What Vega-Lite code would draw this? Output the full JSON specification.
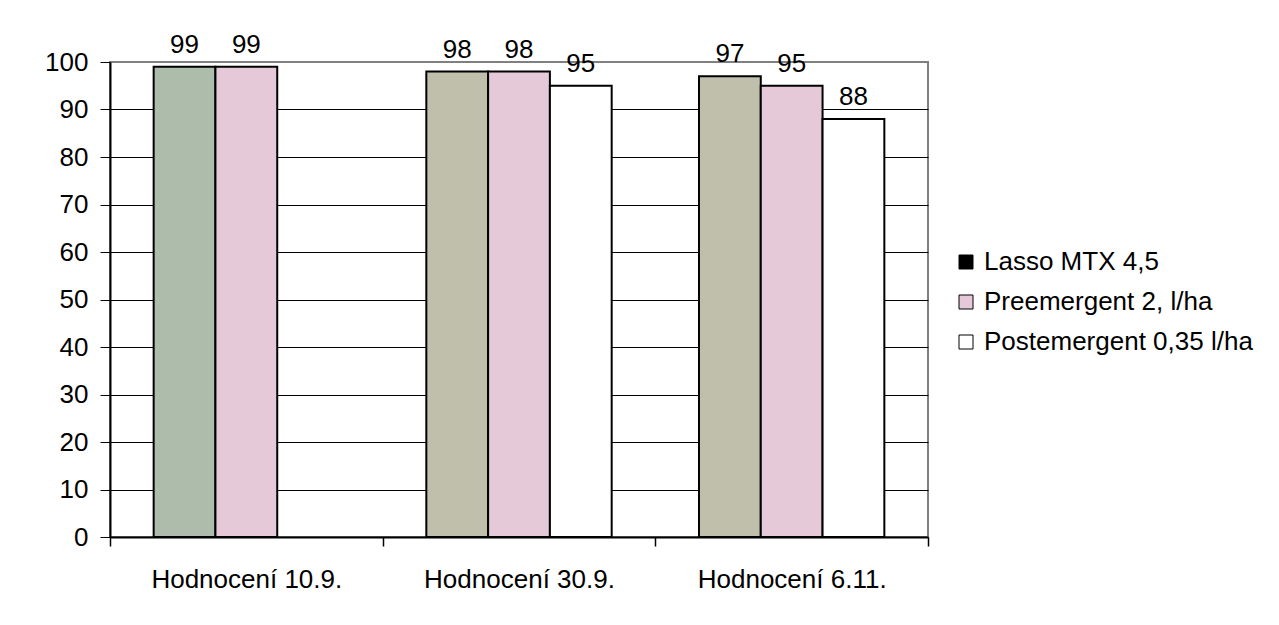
{
  "$schema": "https://vega.github.io/schema/vega-lite/v6.json",
  "width": 818,
  "height": 475,
  "autosize": {"type": "none"},
  "padding": {"left": 110, "top": 62, "right": 351, "bottom": 88},
  "background": "white",
  "config": {
    "font": "Liberation Sans",
    "view": {"stroke": "#808080", "strokeWidth": 2},
    "axis": {"labelFont": "Liberation Sans", "labelColor": "black"},
    "legend": {"labelFont": "Liberation Sans"}
  },
  "data": {
    "values": [
      {"g": "Hodnocení 10.9.", "s": "Lasso MTX 4,5", "v": 99},
      {"g": "Hodnocení 10.9.", "s": "Preemergent 2, l/ha", "v": 99},
      {"g": "Hodnocení 30.9.", "s": "Lasso MTX 4,5", "v": 98},
      {"g": "Hodnocení 30.9.", "s": "Preemergent 2, l/ha", "v": 98},
      {"g": "Hodnocení 30.9.", "s": "Postemergent 0,35 l/ha", "v": 95},
      {"g": "Hodnocení 6.11.", "s": "Lasso MTX 4,5", "v": 97},
      {"g": "Hodnocení 6.11.", "s": "Preemergent 2, l/ha", "v": 95},
      {"g": "Hodnocení 6.11.", "s": "Postemergent 0,35 l/ha", "v": 88}
    ]
  },
  "encoding": {
    "x": {
      "field": "g",
      "type": "nominal",
      "sort": null,
      "title": null,
      "scale": {"paddingInner": 0, "paddingOuter": 0},
      "axis": {
        "labelAngle": 0,
        "labelFontSize": 26,
        "labelPadding": 20,
        "labelLimit": 400,
        "tickSize": 9,
        "tickColor": "black",
        "tickWidth": 1.5,
        "tickBand": "extent",
        "domainColor": "black",
        "domainWidth": 2
      }
    },
    "xOffset": {
      "field": "s",
      "type": "nominal",
      "sort": ["Lasso MTX 4,5", "Preemergent 2, l/ha", "Postemergent 0,35 l/ha"],
      "scale": {"domain": ["Lasso MTX 4,5", "Preemergent 2, l/ha", "Postemergent 0,35 l/ha"], "paddingInner": 0, "paddingOuter": 0.7065}
    },
    "y": {
      "field": "v",
      "type": "quantitative",
      "title": null,
      "scale": {"domain": [0, 100], "nice": false},
      "axis": {
        "values": [0, 10, 20, 30, 40, 50, 60, 70, 80, 90, 100],
        "labelFontSize": 26,
        "labelPadding": 12,
        "tickSize": 10,
        "tickColor": "black",
        "tickWidth": 1,
        "domainColor": "black",
        "domainWidth": 2,
        "grid": true,
        "gridColor": {"condition": {"test": "datum.value == 100", "value": "#808080"}, "value": "#000000"},
        "gridWidth": 1,
        "gridOpacity": 1
      }
    }
  },
  "layer": [
    {
      "mark": {"type": "bar", "stroke": "black", "strokeWidth": 2},
      "encoding": {
        "fill": {
          "condition": [
            {"test": "datum.s == 'Lasso MTX 4,5' && datum.g == 'Hodnocení 10.9.'", "value": "#aebcab"},
            {"test": "datum.s == 'Lasso MTX 4,5'", "value": "#bfbfac"}
          ],
          "field": "s",
          "type": "nominal",
          "sort": ["Lasso MTX 4,5", "Preemergent 2, l/ha", "Postemergent 0,35 l/ha"],
          "scale": {
            "domain": ["Lasso MTX 4,5", "Preemergent 2, l/ha", "Postemergent 0,35 l/ha"],
            "range": ["#000000", "#e6c9d9", "#ffffff"]
          },
          "legend": {
            "title": null,
            "orient": "none",
            "legendX": 843,
            "legendY": 187,
            "symbolType": "square",
            "symbolSize": 196,
            "symbolStrokeColor": "black",
            "symbolStrokeWidth": 1,
            "symbolOpacity": 1,
            "labelFontSize": 26,
            "labelColor": "black",
            "labelOffset": 5,
            "rowPadding": 14,
            "labelLimit": 400
          }
        }
      }
    },
    {
      "mark": {"type": "text", "baseline": "alphabetic", "dy": -14, "fontSize": 26, "color": "black"},
      "encoding": {
        "text": {"field": "v", "type": "quantitative"}
      }
    }
  ]
}
